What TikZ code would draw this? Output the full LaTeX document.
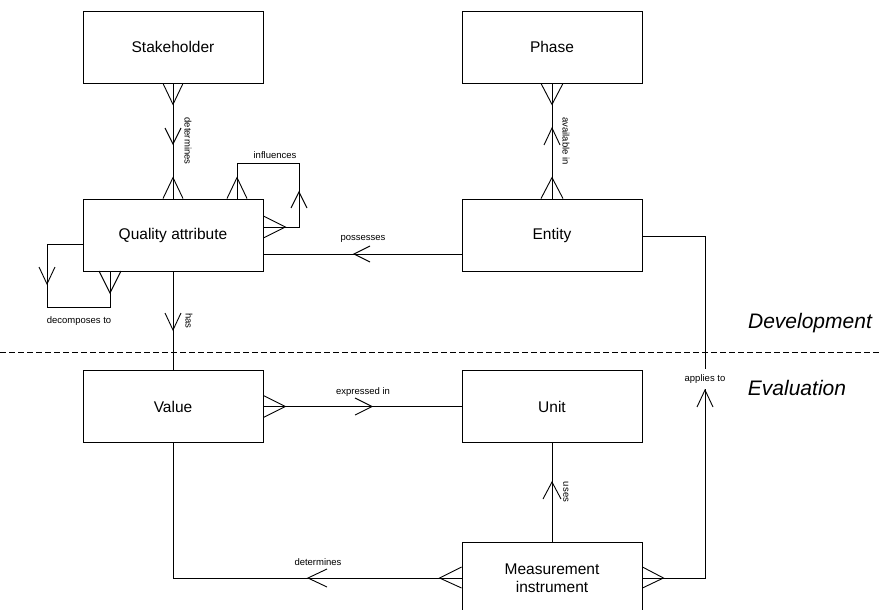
\documentclass[tikz,border=0pt]{standalone}
\usepackage{fontspec}
\setmainfont{Liberation Sans}
\usetikzlibrary{calc}
\begin{document}
\begin{tikzpicture}[x=1pt,y=-1pt,
  conn/.style={draw=black,line width=0.9pt,line join=miter},
  entbox/.style={draw=black,line width=0.9pt,fill=white,minimum width=180pt,minimum height=72pt,inner sep=0pt,align=center,font=\fontsize{15.5}{18}\selectfont},
  lbl/.style={inner sep=0pt,font=\fontsize{9.5}{11}\selectfont},
  phase/.style={inner sep=0pt,font=\fontsize{21}{24}\selectfont\itshape},
  sep/.style={draw=black,line width=0.9pt,dash pattern=on 6pt off 3pt}]
\useasboundingbox (0,0) rectangle (879,610);
\fill[white] (0,0) rectangle (879,610);

% boxes
\node[entbox] (stake) at (173,47) {Stakeholder};
\node[entbox] (phase) at (552,47) {Phase};
\node[entbox] (qa) at (173,235) {Quality attribute};
\node[entbox] (entity) at (552,235) {Entity};
\node[entbox] (value) at (173,406.5) {Value};
\node[entbox] (unit) at (552,406.5) {Unit};
\node[entbox] (mi) at (552,578) {Measurement\\instrument};

% separator
\coordinate (sepL) at (0,352);
\coordinate (sepR) at (879,352);
\draw[sep] (sepL) -- (sepR);
\node[phase] (dev) at (810,323) {Development};
\node[phase] (eval) at (797,388) {Evaluation};

% Stakeholder -- Quality attribute
\draw[conn] (stake.south) -- (qa.north);
\draw[conn] ($(stake.south)+(-10,0)$) -- ($(stake.south)+(0,21)$) -- ($(stake.south)+(10,0)$);
\draw[conn] ($(qa.north)+(-10,0)$) -- ($(qa.north)+(0,-21)$) -- ($(qa.north)+(10,0)$);
\draw[conn] (165,128) -- (173,144) -- (181,128);
\node[lbl,rotate=-90] (l1) at (188,141) {determines};

% influences
\draw[conn] ($(qa.north)+(64,0)$) -- (237,163) -- (299,163) -- (299,227) -- ($(qa.east)+(0,-8)$);
\draw[conn] ($(qa.north)+(54,0)$) -- ($(qa.north)+(64,-21)$) -- ($(qa.north)+(74,0)$);
\draw[conn] ($(qa.east)+(0,-19)$) -- ($(qa.east)+(22,-8)$) -- ($(qa.east)+(0,3)$);
\draw[conn] (291,208) -- (299,192) -- (307,208);
\node[lbl] (l2) at (275,155) {influences};

% decomposes to
\draw[conn] ($(qa.west)+(0,9)$) -- (47,244) -- (47,307) -- (110,307) -- (110,271);
\draw[conn] (99,271) -- (110,293) -- (121,271);
\draw[conn] (39,267) -- (47,284) -- (55,267);
\node[lbl] (l3) at (79,321) {decomposes to};

% has
\draw[conn] (qa.south) -- (value.north);
\draw[conn] (165,313) -- (173,330) -- (181,313);
\node[lbl,rotate=-90] (l4) at (189,321) {has};

% possesses
\draw[conn] ($(entity.west)+(0,19)$) -- ($(qa.east)+(0,19)$);
\draw[conn] (370,246) -- (354,254) -- (370,262);
\node[lbl] (l5) at (363,239) {possesses};

% available in
\draw[conn] (phase.south) -- (entity.north);
\draw[conn] ($(phase.south)+(-11,0)$) -- ($(phase.south)+(0,21)$) -- ($(phase.south)+(11,0)$);
\draw[conn] ($(entity.north)+(-11,0)$) -- ($(entity.north)+(0,-21)$) -- ($(entity.north)+(11,0)$);
\draw[conn] (544,145) -- (552,128) -- (560,145);
\node[lbl,rotate=-90] (l6) at (566,141) {available in};

% applies to
\draw[conn] ($(entity.east)+(0,1)$) -- (705,236) -- (705,578) -- (mi.east);
\draw[conn] ($(mi.east)+(0,-11)$) -- ($(mi.east)+(21,0)$) -- ($(mi.east)+(0,10)$);
\draw[conn] (697,407) -- (705,390) -- (713,407);
\node[lbl,fill=white,inner xsep=1pt,inner ysep=6pt] (l7) at (705,379) {applies to};

% expressed in
\draw[conn] (value.east) -- (unit.west);
\draw[conn] ($(value.east)+(0,-11)$) -- ($(value.east)+(22,0)$) -- ($(value.east)+(0,11)$);
\draw[conn] (355,398) -- (372,406.5) -- (355,415);
\node[lbl] (l8) at (363,392) {expressed in};

% uses
\draw[conn] (unit.south) -- (mi.north);
\draw[conn] (543,499) -- (552,482) -- (561,499);
\node[lbl,rotate=-90] (l9) at (566,492) {uses};

% determines (bottom)
\draw[conn] (value.south) |- (mi.west);
\draw[conn] ($(mi.west)+(0,-11)$) -- ($(mi.west)+(-22,0)$) -- ($(mi.west)+(0,10)$);
\draw[conn] (327,569) -- (308,578) -- (327,587);
\node[lbl] (l10) at (318,562) {determines};
\end{tikzpicture}
\end{document}
